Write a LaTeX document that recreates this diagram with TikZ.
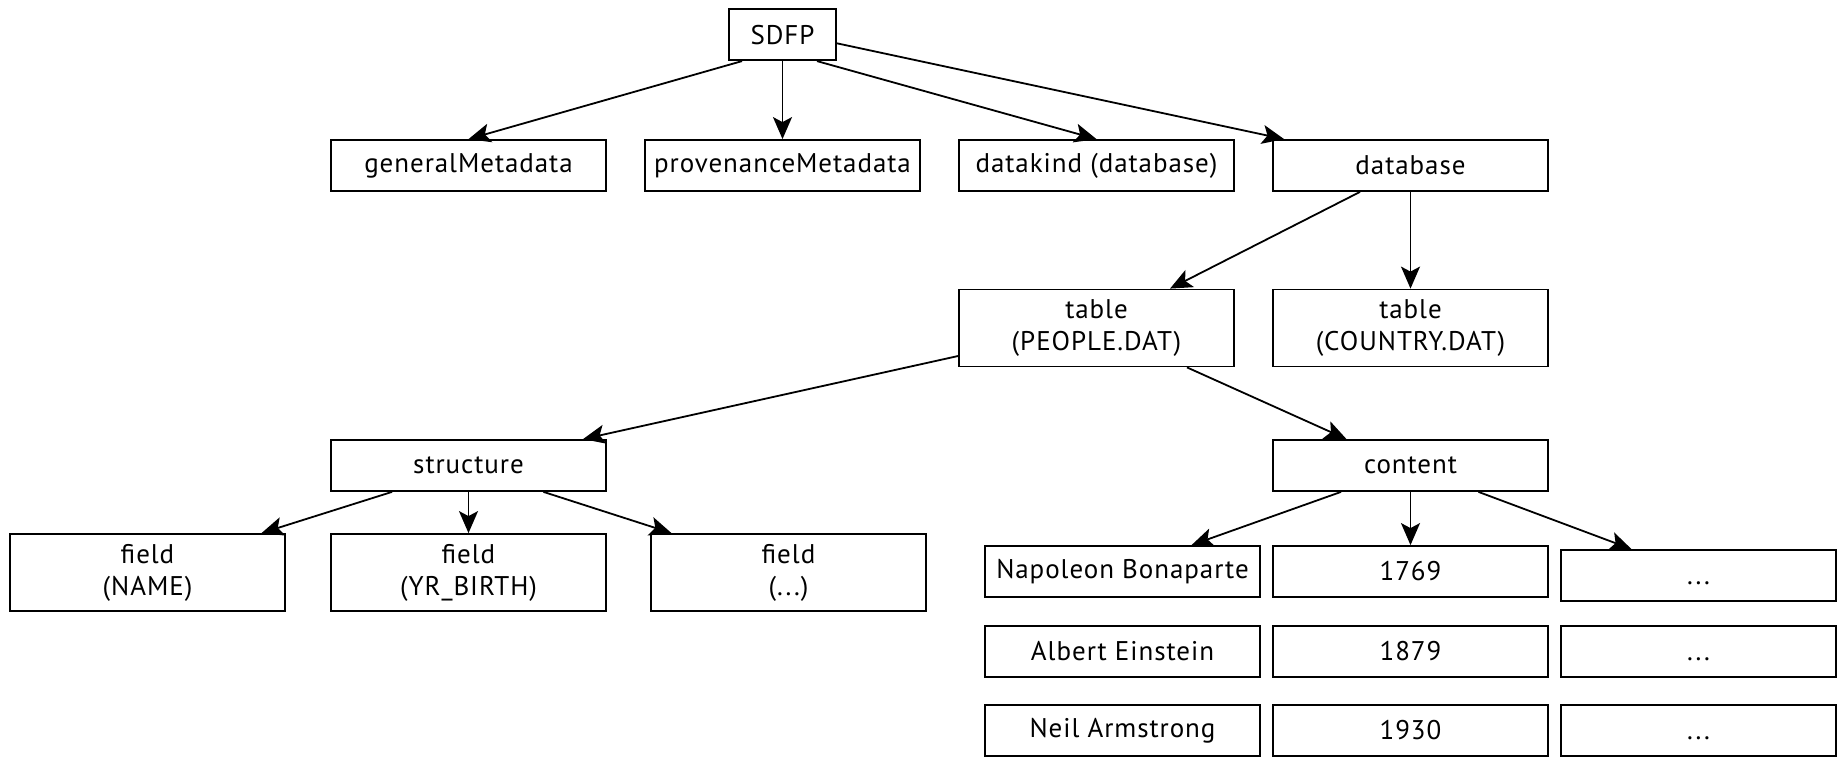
\documentclass[tikz,border=0pt]{standalone}
\usepackage{fontspec}
\setmainfont{PT Sans}[LetterSpace=3.5]
\usetikzlibrary{arrows.meta,calc}
\begin{document}
\begin{tikzpicture}[x=0.5pt,y=-0.5pt,
  box/.style={draw, line width=0.9pt, minimum width=137.5pt, minimum height=25.5pt,
    inner sep=0pt, align=center, font=\fontsize{13.5}{16}\selectfont},
  tall/.style={box, minimum height=38.5pt},
  arr/.style={line width=0.9pt, -{Stealth[length=11pt,width=9.5pt,inset=2.5pt]}}]
\useasboundingbox (0,0) rectangle (1837,756);
\begin{scope}
\clip (0,0) rectangle (1837,756);
% row 0
\node[box, minimum width=53.5pt] (sdfp) at (782.5,34.7) {SDFP};
% row 1
\node[box] (gen)  at (468.5,165.5) {generalMetadata};
\node[box] (prov) at (782.5,165.5) {provenanceMetadata};
\node[box] (dk)   at (1096.5,165.5) {datakind (database)};
\node[box] (db)   at (1410.5,165.5) {database};
% row 2
\node[tall] (people)  at (1096.5,328) {table\\(PEOPLE.DAT)};
\node[tall] (country) at (1410.5,328) {table\\(COUNTRY.DAT)};
% row 3
\node[box] (struct)  at (468.5,465.5) {structure};
\node[box] (content) at (1410.5,465.5) {content};
% fields
\node[tall] (fname) at (147.5,572.5) {field\\(NAME)};
\node[tall] (fyr)   at (468.5,572.5) {field\\(YR\_BIRTH)};
\node[tall] (fdots) at (788.5,572.5) {field\\(...)};
% content cells
\node[box] (n1) at (1122.5,571.5) {Napoleon Bonaparte};
\node[box] (y1) at (1410.5,571.5) {1769};
\node[box, text depth=0pt, text height=0pt] (d1) at (1698.5,575.5) {\raisebox{-4.5pt}{...}};
\node[box] (n2) at (1122.5,651.5) {Albert Einstein};
\node[box] (y2) at (1410.5,651.5) {1879};
\node[box, text depth=0pt, text height=0pt] (d2) at (1698.5,651.5) {\raisebox{-4.5pt}{...}};
\node[box] (n3) at (1122.5,730.5) {Neil Armstrong};
\node[box] (y3) at (1410.5,730.5) {1930};
\node[box, text depth=0pt, text height=0pt] (d3) at (1698.5,730.5) {\raisebox{-4.5pt}{...}};
% connectors
\draw[arr] ($(sdfp.south)+(-40.5,0)$) -- (gen.north);
\draw[arr] (sdfp.south) -- (prov.north);
\draw[arr] ($(sdfp.south)+(34.5,0)$) -- (dk.north);
\draw[arr] ($(sdfp.east)+(0,8.6)$) -- ($(db.north west)+(12,0)$);
\draw[arr] ($(db.south)+(-50.5,0)$) -- ($(people.north)+(73.5,0)$);
\draw[arr] (db.south) -- (country.north);
\draw[arr] ($(people.west)+(0,28)$) -- ($(struct.north)+(114.5,0)$);
\draw[arr] ($(people.south)+(90.5,0)$) -- ($(content.north)+(-64,0)$);
\draw[arr] ($(struct.south)+(-76.5,0)$) -- ($(fname.north)+(114,0)$);
\draw[arr] (struct.south) -- (fyr.north);
\draw[arr] ($(struct.south)+(75,0)$) -- ($(fdots.north)+(-117,0)$);
\draw[arr] ($(content.south)+(-69.5,0)$) -- ($(n1.north)+(69,0)$);
\draw[arr] (content.south) -- (y1.north);
\draw[arr] ($(content.south)+(68,0)$) -- ($(d1.north)+(-67,0)$);
\end{scope}
\end{tikzpicture}
\end{document}
